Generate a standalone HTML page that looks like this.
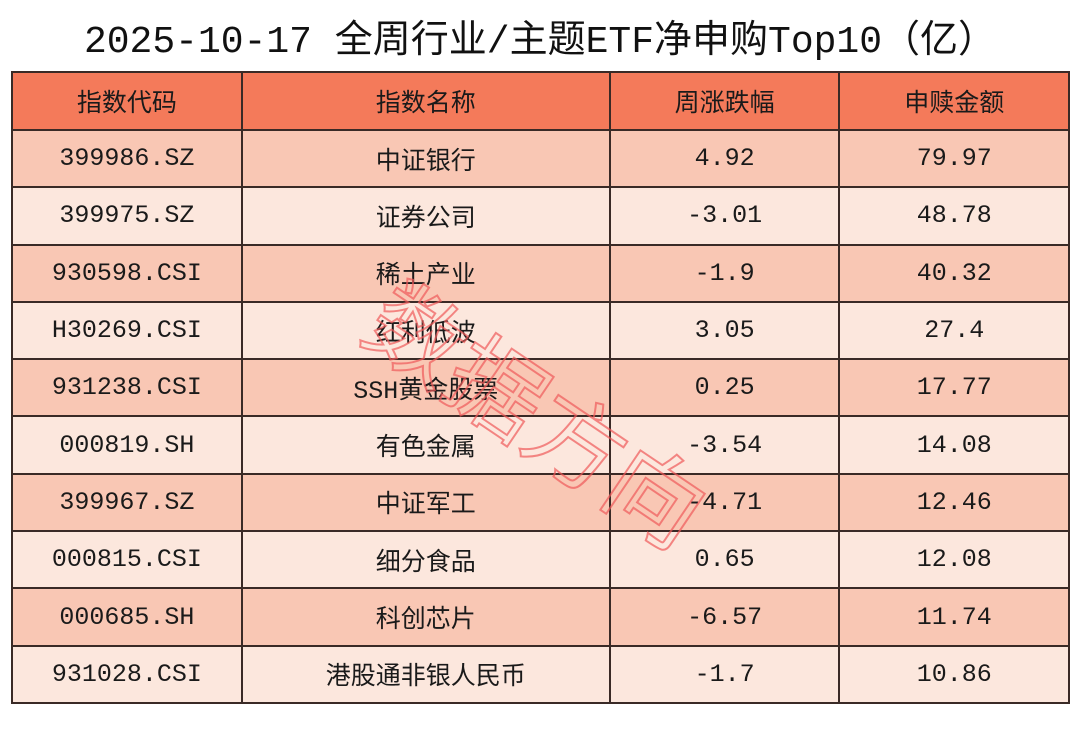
<!DOCTYPE html>
<html><head><meta charset="utf-8"><style>
body{margin:0;width:1080px;height:755px;background:#fff;position:relative;overflow:hidden;font-family:"Liberation Mono","Noto Sans CJK SC",monospace;}
.t{position:absolute;top:8px;left:0;width:1080px;text-align:center;font-size:38px;color:#111;}
table{position:absolute;left:11px;top:71px;border-collapse:collapse;width:1059px;}
td{border:2px solid #3a2a26;text-align:center;font-size:25px;color:#1a1a1a;height:55.3px;padding:0;}
tr.h td{background:#f47a5a;height:56px;font-family:"Noto Sans CJK SC",sans-serif;}
tr.o td{background:#f9c7b4;}
tr.e td{background:#fce7dd;}
.wm{position:absolute;left:420px;top:245px;font-size:96px;color:rgba(255,255,255,0);-webkit-text-stroke:2px rgba(240,90,90,0.7);transform:rotate(34deg);transform-origin:left top;font-family:"Noto Sans CJK SC",sans-serif;white-space:nowrap;}
</style></head><body>
<div class="t">2025-10-17 全周行业/主题ETF净申购Top10（亿）</div>
<table>
<colgroup><col style="width:230px"><col style="width:369px"><col style="width:230px"><col style="width:230px"></colgroup>
<tr class="h"><td>指数代码</td><td>指数名称</td><td>周涨跌幅</td><td>申赎金额</td></tr>
<tr class="o"><td>399986.SZ</td><td>中证银行</td><td>4.92</td><td>79.97</td></tr>
<tr class="e"><td>399975.SZ</td><td>证券公司</td><td>-3.01</td><td>48.78</td></tr>
<tr class="o"><td>930598.CSI</td><td>稀土产业</td><td>-1.9</td><td>40.32</td></tr>
<tr class="e"><td>H30269.CSI</td><td>红利低波</td><td>3.05</td><td>27.4</td></tr>
<tr class="o"><td>931238.CSI</td><td>SSH黄金股票</td><td>0.25</td><td>17.77</td></tr>
<tr class="e"><td>000819.SH</td><td>有色金属</td><td>-3.54</td><td>14.08</td></tr>
<tr class="o"><td>399967.SZ</td><td>中证军工</td><td>-4.71</td><td>12.46</td></tr>
<tr class="e"><td>000815.CSI</td><td>细分食品</td><td>0.65</td><td>12.08</td></tr>
<tr class="o"><td>000685.SH</td><td>科创芯片</td><td>-6.57</td><td>11.74</td></tr>
<tr class="e"><td>931028.CSI</td><td>港股通非银人民币</td><td>-1.7</td><td>10.86</td></tr>
</table>
<div class="wm">数据方向</div>
</body></html>
